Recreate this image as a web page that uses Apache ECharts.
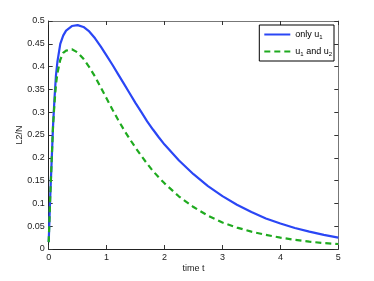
<!DOCTYPE html>
<html><head><meta charset="utf-8">
<script src="https://cdn.jsdelivr.net/npm/echarts@6/dist/echarts.min.js"></script>
<style>html,body{margin:0;padding:0;background:#fff}#c{width:374px;height:281px}</style>
</head><body><div id="c"></div>
<script>
const tValues = [0,0.025,0.05,0.075,0.1,0.125,0.15,0.2,0.25,0.3,0.4,0.5,0.6,0.7,0.8,0.9,1.0,1.1,1.2,1.3,1.4,1.5,1.6,1.7,1.8,1.9,2.0,2.25,2.5,2.75,3.0,3.25,3.5,3.75,4.0,4.25,4.5,4.75,5.0];
const onlyU1 = [0.015,0.11,0.19,0.27,0.33,0.38,0.41,0.45,0.468,0.479,0.489,0.491,0.487,0.477,0.462,0.444,0.424,0.404,0.383,0.362,0.341,0.320,0.300,0.280,0.262,0.245,0.229,0.194,0.164,0.138,0.116,0.097,0.081,0.067,0.056,0.046,0.038,0.031,0.025];
const u1AndU2 = [0.015,0.11,0.19,0.27,0.32,0.36,0.385,0.415,0.43,0.435,0.438,0.431,0.417,0.399,0.378,0.354,0.330,0.306,0.283,0.261,0.241,0.222,0.204,0.187,0.171,0.157,0.144,0.115,0.092,0.073,0.058,0.047,0.038,0.031,0.025,0.020,0.016,0.013,0.011];
const seriesNames = ['only u1','u1 and u2'];
const xLabel = 'time t';
const yLabel = 'L2/N';

const chart = echarts.init(document.getElementById('c'));
const font = 'Liberation Sans, Arial, sans-serif';
const pair = (ys) => tValues.map((t,i)=>[t, ys[i]]);
const tick = () => ({show:true,inside:true,length:4,lineStyle:{color:'#333',width:1}});
const line = (c) => ({show:true,onZero:false,lineStyle:{color:c,width:1}});
chart.setOption({
  animation:false,
  grid:{left:48.7,right:35.7,top:21,bottom:32},
  legend:{
    right:40, top:25, orient:'vertical',
    backgroundColor:'#fff', borderColor:'#000', borderWidth:1,
    padding:[5,2,4,4], itemGap:7, itemWidth:26, itemHeight:10,
    itemStyle:{opacity:0},
    textStyle:{fontFamily:font,fontSize:9,color:'#000',
      rich:{s:{fontFamily:font,fontSize:6,color:'#000',padding:[5,0,0,0]}}},
    formatter:(n)=> n==='only u1' ? 'only u{s|1}' : 'u{s|1} and u{s|2}',
    data:seriesNames
  },
  xAxis:[
    {type:'value',min:0,max:5,interval:1,position:'bottom',
      name:xLabel,nameLocation:'middle',nameGap:15,nameMoveOverlap:false,
      nameTextStyle:{fontFamily:font,fontSize:9,color:'#222'},
      axisLine:line('#222'),
      axisTick:tick(),splitLine:{show:false},
      axisLabel:{margin:4,fontFamily:font,fontSize:9,color:'#222'}},
    {type:'value',min:0,max:5,interval:1,position:'top',
      axisLine:line('#777'),
      axisTick:tick(),splitLine:{show:false},axisLabel:{show:false}}
  ],
  yAxis:[
    {type:'value',min:0,max:0.5,interval:0.05,position:'left',
      name:yLabel,nameLocation:'middle',nameGap:25,nameRotate:90,nameMoveOverlap:false,
      nameTextStyle:{fontFamily:font,fontSize:9,color:'#222'},
      axisLine:line('#222'),
      axisTick:tick(),splitLine:{show:false},
      axisLabel:{margin:4,fontFamily:font,fontSize:9,color:'#222',
        formatter:(v)=> String(+v.toFixed(2))}},
    {type:'value',min:0,max:0.5,interval:0.05,position:'right',
      axisLine:line('#777'),
      axisTick:tick(),splitLine:{show:false},axisLabel:{show:false}}
  ],
  series:[
    {name:seriesNames[0],type:'line',data:pair(onlyU1),showSymbol:false,symbol:'none',smooth:false,
      lineStyle:{color:'#2a46f5',width:2.2},itemStyle:{color:'#2a46f5'},z:2},
    {name:seriesNames[1],type:'line',data:pair(u1AndU2),showSymbol:false,symbol:'none',smooth:false,
      lineStyle:{color:'#1faa1f',width:2.2,type:[6,4]},itemStyle:{color:'#1faa1f'},z:3}
  ]
});
</script></body></html>
